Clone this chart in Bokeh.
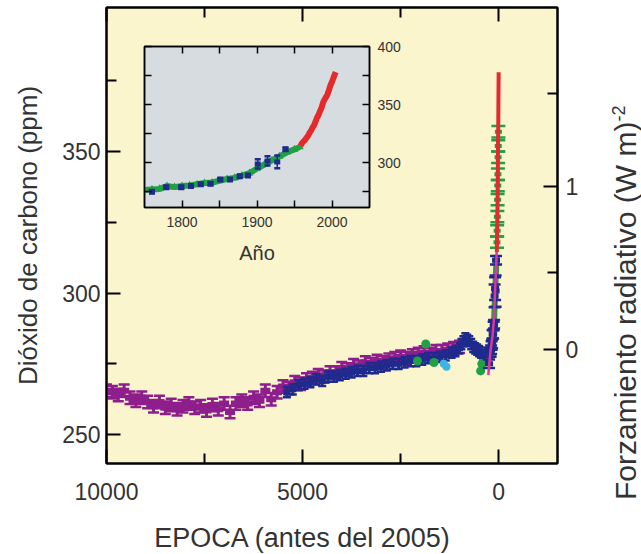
import math
from bokeh.plotting import figure
from bokeh.models import (Range1d, LinearAxis, FixedTicker, CustomJSTickFormatter,
                          ColumnDataSource, Div)
from bokeh.embed import file_html
from bokeh.resources import INLINE

# ---------------- data ----------------
BASE_YEAR = 2005

# older ice-core record (years before 2005, ppm) - purple
purple_age = [10000, 9850, 9700, 9550, 9400, 9250, 9100, 8950, 8800, 8650, 8500, 8350,
              8200, 8050, 7900, 7750, 7600, 7450, 7300, 7150, 7000, 6850, 6700, 6550,
              6400, 6250, 6100, 5950, 5800, 5650, 5500, 5350, 5200, 5050, 4900, 4750,
              4600, 4450, 4300, 4150, 4000, 3850, 3700, 3550, 3400, 3250, 3100, 2950,
              2800, 2650, 2500, 2350, 2200, 2050, 1900, 1750, 1600, 1450, 1300, 1150, 1000]
purple_ppm = [265.5, 265.0, 264.0, 265.5, 263.0, 262.0, 263.0, 261.5, 260.0, 261.5, 259.5, 260.5,
              259.0, 260.0, 261.0, 259.5, 260.0, 258.5, 260.5, 259.0, 261.0, 258.0, 261.0, 262.0,
              261.0, 263.0, 262.0, 265.5, 262.5, 265.0, 267.0, 266.5, 268.5, 268.0, 269.5, 270.0,
              271.0, 270.5, 272.0, 272.0, 273.5, 273.0, 274.5, 274.0, 275.5, 275.0, 276.0, 275.5,
              276.5, 277.0, 277.5, 277.0, 278.0, 278.5, 279.0, 278.5, 279.5, 279.5, 280.0, 280.5, 281.0]

# second ice-core record (years before 2005, ppm) - navy
navy_age = [5400, 5250, 5100, 4950, 4800, 4650, 4500, 4350, 4200, 4050, 3900, 3750, 3600,
            3450, 3300, 3150, 3000, 2850, 2700, 2550, 2400, 2250, 2100, 1950, 1800, 1650,
            1500, 1350, 1200, 1100, 1000, 950, 900, 850, 800, 750, 700, 650, 600, 550,
            500, 450, 400, 350, 300, 250]
navy_ppm = [265.0, 266.0, 267.5, 268.0, 268.5, 269.5, 269.0, 270.5, 270.5, 271.0, 271.5, 272.0, 272.5,
            272.5, 273.5, 273.5, 274.0, 274.5, 275.0, 275.0, 275.5, 276.0, 276.0, 276.5, 277.0, 277.0,
            277.5, 278.0, 279.0, 279.5, 280.5, 282.0, 283.0, 284.0, 283.5, 283.0, 282.0, 281.0, 280.5, 280.0,
            279.5, 279.0, 278.0, 277.5, 278.0, 279.0]

# scattered points (years before 2005, ppm)
green_age = [2070, 1860, 1650, 460, 430]
green_ppm = [276.0, 282.0, 275.5, 272.5, 275.0]
cyan_age = [1400, 1330]
cyan_ppm = [275.0, 274.0]

# Law Dome style record (calendar year, ppm, error) - navy with error bars
law_year = [1760, 1779, 1799, 1812, 1825, 1838, 1851, 1864, 1877, 1888, 1901, 1914, 1927, 1938]
law_ppm = [275.0, 279.0, 279.0, 280.0, 281.5, 282.0, 285.5, 285.5, 288.4, 289.0, 299.0, 301.6, 300.7, 311.6]
law_err = [1.5, 1.5, 1.5, 1.5, 1.5, 1.5, 1.5, 1.5, 1.5, 1.5, 4.0, 4.0, 5.5, 1.5]

# ice core band (calendar year, ppm) - green
core_year = [1750, 1760, 1770, 1780, 1790, 1800, 1810, 1820, 1830, 1840, 1850, 1860,
             1870, 1880, 1890, 1900, 1910, 1920, 1930, 1940, 1950, 1957]
core_ppm = [276.5, 277.0, 277.5, 280.0, 279.0, 280.0, 280.5, 281.5, 282.5, 283.0, 284.5, 286.0,
            287.0, 289.0, 291.0, 295.0, 298.5, 302.0, 305.5, 309.0, 311.5, 313.5]

# firn air (calendar year, ppm) - green, main panel only
firn_year = [1962, 1967, 1972, 1977, 1982, 1986, 1990, 1994, 1998]
firn_ppm = [318.0, 322.0, 327.0, 333.0, 338.0, 342.0, 348.0, 352.0, 357.0]

# atmospheric measurements (calendar year, ppm) - red
atm_year = [1958, 1960, 1962, 1964, 1966, 1968, 1970, 1972, 1974, 1976, 1978, 1980,
            1982, 1984, 1986, 1988, 1990, 1992, 1994, 1996, 1998, 2000, 2002, 2004, 2005]
atm_ppm = [314.5, 316.9, 318.4, 319.6, 321.4, 323.1, 325.7, 327.5, 330.2, 332.1, 335.4, 338.7,
           341.1, 344.4, 347.2, 351.6, 354.4, 356.4, 358.8, 362.6, 366.7, 369.6, 373.2, 376.5, 378.0]

# smooth fit (calendar year, ppm) - magenta, main panel only
fit_year = [1740, 1800, 1850, 1880, 1900, 1920, 1940, 1960, 1975, 1985]
fit_ppm = [271.0, 280.0, 285.0, 290.0, 296.0, 303.0, 309.0, 318.0, 330.0, 340.0]

# axis ticks and titles
main_x_ticks = [10000, 5000, 0]
main_x_minor = [7500, 2500]
main_y_ticks = [250, 300, 350]
main_y_minor = [275, 325, 375]
forcing_ticks = [0, 1]
forcing_minor = [0.5, 1.5]
FORCING_C0 = 280.0
FORCING_K = 5.35
inset_x_ticks = [1800, 1900, 2000]
inset_x_minor = [1850, 1950]
inset_y_ticks = [300, 350, 400]
inset_y_minor = [275, 325, 375]
X_TITLE = "EPOCA (antes del 2005)"
Y_TITLE = "Dióxido de carbono (ppm)"
Y2_TITLE = "Forzamiento radiativo (W m)"
Y2_SUP = "-2"
INSET_X_TITLE = "Año"

# ---------------- style ----------------
FONT = "Liberation Sans"
TXT = "#333333"
C_PURPLE = "#8D1E8C"
C_NAVY = "#1F2B8C"
C_GREEN = "#22A044"
C_CYAN = "#3DB5E3"
C_RED = "#E42A2A"
C_MAGENTA = "#E0369C"


def to_age(years):
    return [BASE_YEAR - y for y in years]


def ppm_at(f):
    return FORCING_C0 * math.exp(f / FORCING_K)


def errbars(fig, x, y, err, color, cap_w, box_w, box_h, lw=2):
    if isinstance(err, (int, float)):
        err = [err] * len(x)
    src = ColumnDataSource(dict(x=x, y=y,
                                lo=[a - e for a, e in zip(y, err)],
                                hi=[a + e for a, e in zip(y, err)]))
    fig.segment(x0="x", y0="lo", x1="x", y1="hi", line_color=color, line_width=lw, source=src)
    for col in ("lo", "hi"):
        fig.rect(x="x", y=col, width=cap_w, height=2.5, width_units="screen",
                 height_units="screen", fill_color=color, line_color=None, source=src)
    fig.rect(x="x", y="y", width=box_w, height=box_h, width_units="screen",
             height_units="screen", fill_color=color, line_color=None, source=src)


def style_axis(ax, tick_size, label_size, major=14, minor=10, lw=2):
    ax.axis_line_width = lw
    ax.axis_line_color = "black"
    ax.major_tick_in = major
    ax.major_tick_out = 0
    ax.minor_tick_in = minor
    ax.minor_tick_out = 0
    ax.major_tick_line_width = lw
    ax.minor_tick_line_width = lw
    ax.major_tick_line_color = "black"
    ax.minor_tick_line_color = "black"
    ax.major_label_text_font = FONT
    ax.major_label_text_font_size = tick_size
    ax.major_label_text_color = TXT
    ax.axis_label_text_font = FONT
    ax.axis_label_text_font_size = label_size
    ax.axis_label_text_font_style = "normal"
    ax.axis_label_text_color = TXT


def hidden_axis(ticks, minor, major, minor_len, lw):
    ax = LinearAxis(ticker=FixedTicker(ticks=ticks, minor_ticks=minor),
                    formatter=CustomJSTickFormatter(code="return ''"))
    style_axis(ax, "1px", "1px", major=major, minor=minor_len, lw=lw)
    ax.major_label_text_color = None
    ax.major_label_standoff = 0
    return ax


def title_div(html, width, height, font_px, extra):
    styles = {"position": "absolute", "font-family": FONT, "font-size": "%dpx" % font_px,
              "color": TXT, "white-space": "nowrap", "line-height": "%dpx" % height,
              "width": "%dpx" % width, "height": "%dpx" % height,
              "padding": "0", "margin": "0", "z-index": "20"}
    styles.update(extra)
    return Div(text=html, width=width, height=height, margin=0, styles=styles)


# ---------------- main figure ----------------
p = figure(frame_width=451, frame_height=456,
           x_range=Range1d(10000, -1500), y_range=Range1d(239.8, 400.9),
           x_axis_location=None, y_axis_location=None,
           min_border_left=106, min_border_right=80, min_border_top=7, min_border_bottom=56,
           background_fill_color="#FAF5CD", border_fill_color="white",
           outline_line_color="black", outline_line_width=2,
           output_backend="svg", toolbar_location=None)
p.grid.visible = False

xb = LinearAxis(ticker=FixedTicker(ticks=main_x_ticks, minor_ticks=main_x_minor))
style_axis(xb, "23px", "26px")
xb.major_label_standoff = 19
p.add_layout(xb, "below")

p.add_layout(hidden_axis(main_x_ticks, main_x_minor, 14, 10, 2), "above")

yl = LinearAxis(ticker=FixedTicker(ticks=main_y_ticks, minor_ticks=main_y_minor),
                axis_label=Y_TITLE)
style_axis(yl, "23px", "26px")
yl.major_label_standoff = 6
yl.axis_label_standoff = 16
p.add_layout(yl, "left")

yr = LinearAxis(ticker=FixedTicker(ticks=[ppm_at(f) for f in forcing_ticks],
                                   minor_ticks=[ppm_at(f) for f in forcing_minor]),
                formatter=CustomJSTickFormatter(
                    code="return (%g*Math.log(tick/%g)).toFixed(0)" % (FORCING_K, FORCING_C0)))
style_axis(yr, "23px", "26px")
yr.major_label_standoff = 8
p.add_layout(yr, "right")

# older records
errbars(p, purple_age, purple_ppm, 2.2, C_PURPLE, cap_w=11, box_w=10, box_h=6, lw=3)
errbars(p, navy_age, navy_ppm, 1.8, C_NAVY, cap_w=8, box_w=7, box_h=6, lw=3)
p.scatter(green_age, green_ppm, marker="circle", size=9, fill_color=C_GREEN, line_color=None)
p.scatter(cyan_age, cyan_ppm, marker="circle", size=8, fill_color=C_CYAN, line_color=None)

# recent spike
p.line(to_age(core_year), core_ppm, line_color=C_GREEN, line_width=6)
errbars(p, to_age(firn_year), firn_ppm, 2.0, C_GREEN, cap_w=14, box_w=7, box_h=4, lw=3)
errbars(p, to_age(law_year), law_ppm, law_err, C_NAVY, cap_w=12, box_w=8, box_h=5, lw=2)
p.line(to_age(fit_year), fit_ppm, line_color=C_MAGENTA, line_width=2.5)
p.line(to_age(atm_year), atm_ppm, line_color=C_RED, line_width=4)

# axis titles placed like the reference
x_title = title_div(X_TITLE, 400, 31, 27, {"left": "102px", "top": "523px", "text-align": "center"})
y2_title = title_div('%s<sup style="font-size:60%%">%s</sup>' % (Y2_TITLE, Y2_SUP), 430, 28, 30,
                     {"left": "605px", "top": "500px", "text-align": "left",
                      "transform": "rotate(-90deg)", "transform-origin": "0 0"})

# ---------------- inset ----------------
ins = figure(frame_width=225, frame_height=161,
             x_range=Range1d(1750, 2050), y_range=Range1d(261.5, 400),
             x_axis_location=None, y_axis_location=None,
             min_border_left=4, min_border_top=10, min_border_right=0, min_border_bottom=0,
             background_fill_color="#D6DCE0", border_fill_color=None,
             outline_line_color="black", outline_line_width=1.5,
             output_backend="svg", toolbar_location=None)
ins.grid.visible = False

ib = LinearAxis(ticker=FixedTicker(ticks=inset_x_ticks, minor_ticks=inset_x_minor),
                axis_label=INSET_X_TITLE)
style_axis(ib, "14px", "20px", major=7, minor=7, lw=1.5)
ib.major_label_standoff = 9
ib.axis_label_standoff = 12
ins.add_layout(ib, "below")

ins.add_layout(hidden_axis(inset_x_ticks, inset_x_minor, 7, 7, 1.5), "above")
ins.add_layout(hidden_axis(inset_y_ticks, inset_y_minor, 7, 7, 1.5), "left")

ir = LinearAxis(ticker=FixedTicker(ticks=inset_y_ticks, minor_ticks=inset_y_minor))
style_axis(ir, "14px", "14px", major=7, minor=7, lw=1.5)
ir.major_label_standoff = 8
ins.add_layout(ir, "right")

ins.line(core_year, core_ppm, line_color=C_GREEN, line_width=6)
ins.scatter(core_year, core_ppm, marker="triangle", size=8, fill_color=C_GREEN, line_color=None)
errbars(ins, law_year, law_ppm, law_err, C_NAVY, cap_w=6, box_w=6, box_h=5, lw=1.5)
ins.line(atm_year, atm_ppm, line_color=C_RED, line_width=6)

ins.styles = {"position": "absolute", "left": "140px", "top": "36px", "z-index": "10"}

open("out.html", "w").write(file_html([p, ins, x_title, y2_title], INLINE))
